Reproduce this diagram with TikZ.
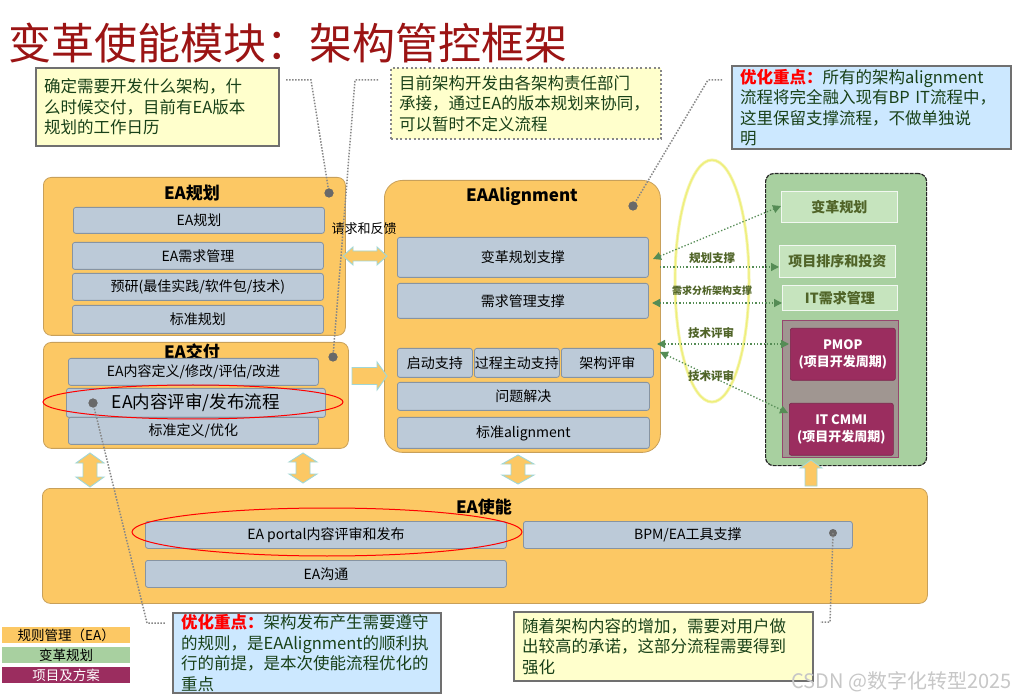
\documentclass[tikz,border=0pt]{standalone}
\usepackage{fontspec}
\setmainfont{Noto Sans CJK SC}
\usetikzlibrary{arrows.meta,calc}
\definecolor{orgfill}{RGB}{252,200,100}
\definecolor{orgdraw}{RGB}{200,160,90}
\definecolor{inbfill}{RGB}{188,202,216}
\definecolor{inbdraw}{RGB}{135,148,162}
\definecolor{noteyel}{RGB}{255,255,204}
\definecolor{noteblue}{RGB}{204,232,255}
\definecolor{notegray}{RGB}{112,112,112}
\definecolor{notetxt}{RGB}{25,65,25}
\definecolor{titlered}{RGB}{155,20,20}
\definecolor{grnfill}{RGB}{168,208,160}
\definecolor{grninner}{RGB}{198,228,190}
\definecolor{grntxt}{RGB}{80,100,40}
\definecolor{grayin}{RGB}{160,150,145}
\definecolor{grayindraw}{RGB}{150,70,110}
\definecolor{maroon}{RGB}{155,45,95}
\definecolor{garrc}{RGB}{85,140,85}
\definecolor{arrdraw}{RGB}{160,215,215}
\definecolor{yell}{RGB}{238,238,120}
\definecolor{dotgray}{RGB}{105,105,105}
\definecolor{connc}{RGB}{135,135,135}
\newcommand{\myhdarr}[6]{\filldraw[barrow] (#1,#3) -- ({#1+#6},{#3-#5}) -- ({#1+#6},{#3-#4}) -- ({#2-#6},{#3-#4}) -- ({#2-#6},{#3-#5}) -- (#2,#3) -- ({#2-#6},{#3+#5}) -- ({#2-#6},{#3+#4}) -- ({#1+#6},{#3+#4}) -- ({#1+#6},{#3+#5}) -- cycle;}
\newcommand{\myvdarr}[6]{\filldraw[barrow] (#3,#1) -- ({#3+#5},{#1+#6}) -- ({#3+#4},{#1+#6}) -- ({#3+#4},{#2-#6}) -- ({#3+#5},{#2-#6}) -- (#3,#2) -- ({#3-#5},{#2-#6}) -- ({#3-#4},{#2-#6}) -- ({#3-#4},{#1+#6}) -- ({#3-#5},{#1+#6}) -- cycle;}
\newcommand{\myrarr}[6]{\filldraw[barrow] (#1,{#3-#4}) -- ({#2-#6},{#3-#4}) -- ({#2-#6},{#3-#5}) -- (#2,#3) -- ({#2-#6},{#3+#5}) -- ({#2-#6},{#3+#4}) -- (#1,{#3+#4}) -- cycle;}
\newcommand{\myuarr}[6]{\filldraw[barrow] ({#3-#4},#2) -- ({#3-#4},{#1+#6}) -- ({#3-#5},{#1+#6}) -- (#3,#1) -- ({#3+#5},{#1+#6}) -- ({#3+#4},{#1+#6}) -- ({#3+#4},#2) -- cycle;}
\begin{document}
\begin{tikzpicture}[x=1pt,y=-1pt,
  cont/.style={draw=orgdraw,fill=orgfill,rounded corners=8pt,line width=0.8pt,anchor=north west,inner sep=0pt},
  inbox/.style={draw=inbdraw,fill=inbfill,rounded corners=2.5pt,line width=0.8pt,anchor=north west,inner sep=0pt,font=\fontsize{14}{16}\selectfont},
  ttl/.style={font=\fontsize{17}{19}\selectfont\bfseries},
  note/.style={fill=noteyel,draw=notegray,line width=2.2pt,anchor=north west,inner xsep=8pt,inner ysep=0pt,text=notetxt,align=left,font=\fontsize{16.5}{20.5}\selectfont},
  gdot/.style={circle,fill=dotgray,inner sep=0pt,minimum size=9pt},
  dotc/.style={draw=connc,line width=1.5pt,dash pattern=on 1.5pt off 1.5pt},
  gbox/.style={fill=grninner,draw=white!85!grnfill,line width=0.8pt,anchor=north west,inner sep=0pt,text=grntxt,font=\fontsize{14}{16}\selectfont\bfseries},
  mbox/.style={fill=maroon,draw=maroon!80!black,line width=0.6pt,rounded corners=2pt,anchor=north west,inner sep=0pt,text=white,align=center,font=\fontsize{13}{17}\selectfont\bfseries},
  garr/.style={draw=garrc,line width=1.3pt,dash pattern=on 1.3pt off 2pt},
  gtip/.tip={Triangle[length=8pt,width=8pt]},
  glabel/.style={text=grntxt,font=\fontsize{11.5}{13}\selectfont\bfseries,inner sep=1pt},
  barrow/.style={fill=orgfill,draw=arrdraw,line width=0.9pt},
  legend/.style={anchor=north west,inner sep=0pt,minimum width=128pt,minimum height=16pt,font=\fontsize{13.5}{15}\selectfont}]
\useasboundingbox (0,0) rectangle (1015,700);
\fill[white] (0,0) rectangle (1015,700);

% title
\node[anchor=west,text=titlered,font=\fontsize{43}{46}\selectfont,inner sep=0pt] (title) at (8,43) {变革使能模块：架构管控框架};

% notes at top
\node[note,text width=227pt,minimum height=78pt] (n1) at (35,67) {确定需要开发什么架构，什\\么时候交付，目前有EA版本\\规划的工作日历};
\node[note,draw=connc,dash pattern=on 2pt off 2.5pt,text width=254pt,minimum height=71pt] (n2) at (390,67) {目前架构开发由各架构责任部门\\承接，通过EA的版本规划来协同，\\可以暂时不定义流程};
\node[note,fill=noteblue,text width=263pt,minimum height=83pt] (n3) at (731,65) {{\color{red}\bfseries 优化重点：}所有的架构alignment\\流程将完全融入现有BP IT流程中，\\这里保留支撑流程，不做单独说\\明};

% EA规划
\node[cont,minimum width=302pt,minimum height=158pt] (plan) at (43,177) {};
\node[ttl] (plant) at (192,193) {EA规划};
\node[inbox,minimum width=251pt,minimum height=26pt] (p1) at (73,207) {EA规划};
\node[inbox,minimum width=251pt,minimum height=27pt] (p2) at (72,242) {EA需求管理};
\node[inbox,minimum width=251pt,minimum height=27pt] (p3) at (72,273) {预研(最佳实践/软件包/技术)};
\node[inbox,minimum width=251pt,minimum height=28pt] (p4) at (72,305) {标准规划};
\node[gdot] (dot1) at (329,193) {};

% EA交付
\node[cont,minimum width=305pt,minimum height=106pt] (deliv) at (43,342) {};
\node[ttl] (delivt) at (192,352) {EA交付};
\node[inbox,minimum width=250pt,minimum height=27pt] (d1) at (68,358) {EA内容定义/修改/评估/改进};
\node[inbox,minimum width=259pt,minimum height=29pt,font=\fontsize{17.5}{19}\selectfont] (d2) at (66,388) {EA内容评审/发布流程};
\node[inbox,minimum width=250pt,minimum height=27pt] (d3) at (68,417) {标准定义/优化};
\draw[red,line width=1pt] (193,402) ellipse [x radius=150pt,y radius=17pt];
\node[gdot] (dot2) at (333,357) {};
\node[gdot] (dot4) at (93,403) {};

% EA Alignment
\node[cont,rounded corners=18pt,minimum width=276pt,minimum height=272pt] (align) at (384,180) {};
\node[ttl] (alignt) at (522,196) {EAAlignment};
\node[inbox,minimum width=251pt,minimum height=40pt] (a1) at (397,237) {变革规划支撑};
\node[inbox,minimum width=251pt,minimum height=35pt] (a2) at (397,283) {需求管理支撑};
\node[inbox,minimum width=75pt,minimum height=29pt] (a3) at (397,348) {启动支持};
\node[inbox,minimum width=85pt,minimum height=29pt] (a4) at (474,348) {过程主动支持};
\node[inbox,minimum width=92pt,minimum height=29pt] (a5) at (561,348) {架构评审};
\node[inbox,minimum width=252pt,minimum height=28pt] (a6) at (397,382) {问题解决};
\node[inbox,minimum width=252pt,minimum height=31pt] (a7) at (397,417) {标准alignment};
\node[gdot] (dot3) at (633,206) {};

% green block
\node[draw=black!85,fill=grnfill,line width=1.2pt,dash pattern=on 4pt off 1pt,rounded corners=8pt,anchor=north west,inner sep=0pt,minimum width=161pt,minimum height=292pt] (green) at (765,173) {};
\node[gbox,minimum width=116pt,minimum height=31pt] (g1) at (781,191) {变革规划};
\node[gbox,minimum width=116pt,minimum height=32pt] (g2) at (779,245) {项目排序和投资};
\node[gbox,minimum width=115pt,minimum height=25pt] (g3) at (782,285) {IT需求管理};
\node[fill=grayin,draw=grayindraw,line width=0.8pt,anchor=north west,inner sep=0pt,minimum width=116pt,minimum height=137pt] (grayc) at (782,320) {};
\node[mbox,minimum width=105pt,minimum height=52pt] (m1) at (790,328) {PMOP\\(项目开发周期)};
\node[mbox,minimum width=104pt,minimum height=52pt] (m2) at (789,403) {IT CMMI\\(项目开发周期)};

% EA使能
\node[cont,minimum width=885pt,minimum height=115pt] (enable) at (42,488) {};
\node[ttl] (enablet) at (484,507) {EA使能};
\node[inbox,minimum width=361pt,minimum height=27pt] (e1) at (145,521) {EA portal内容评审和发布};
\node[inbox,minimum width=329pt,minimum height=27pt] (e2) at (523,521) {BPM/EA工具支撑};
\node[inbox,minimum width=361pt,minimum height=27pt] (e3) at (145,560) {EA沟通};
\draw[red,line width=1pt] (327,532) ellipse [x radius=195pt,y radius=24pt];
\node[gdot,minimum size=8pt] (dot5) at (833,533) {};

% block arrows
\node[font=\fontsize{13}{15}\selectfont,inner sep=0pt] (req) at (364,229) {请求和反馈};
\myhdarr{343}{387}{256}{5}{9}{10}
\myrarr{352}{387}{376}{8.5}{14}{10}
\myvdarr{453}{487}{90}{7}{14}{10}
\myvdarr{453}{483}{303}{7}{14}{9}
\myvdarr{455}{484}{518}{7}{16}{9}
\myuarr{460}{486}{811}{6}{11}{8}

% yellow ellipse and green dotted arrows
\draw[yell!60!white,line width=3pt] (712,281) ellipse [x radius=37pt,y radius=121pt];
\draw[yell,line width=1.2pt] (712,281) ellipse [x radius=37pt,y radius=121pt];
\coordinate (ga1) at (653,259); \coordinate (gb1) at (781,206);
\coordinate (ga2) at (660,267); \coordinate (gb2) at (779,267);
\coordinate (ga3) at (652,303); \coordinate (gb3) at (782,303);
\coordinate (ga4) at (657,344); \coordinate (gb4) at (789,344);
\coordinate (ga5) at (660,352); \coordinate (gb5) at (788,413);
\draw[garr,gtip-gtip] (ga1) -- (gb1);
\draw[garr,-gtip] (ga2) -- (gb2);
\draw[garr,gtip-gtip] (ga3) -- (gb3);
\draw[garr,gtip-gtip] (ga4) -- (gb4);
\draw[garr,gtip-gtip] (ga5) -- (gb5);
\node[glabel] (gl1) at (712,258) {规划支撑};
\node[glabel,font=\fontsize{10}{12}\selectfont\bfseries] (gl2) at (712,291) {需求分析架构支撑};
\node[glabel] (gl3) at (711,333) {技术评审};
\node[glabel] (gl4) at (711,376) {技术评审};

% bottom notes
\node[note,fill=noteblue,text width=252pt,minimum height=80pt] (n4) at (172,612) {{\color{red}\bfseries 优化重点：}架构发布产生需要遵守\\的规则，是EAAlignment的顺利执\\行的前提，是本次使能流程优化的\\重点};
\node[note,text width=283pt,minimum height=69pt] (n5) at (513,611) {随着架构内容的增加，需要对用户做\\出较高的承诺，这部分流程需要得到\\强化};

% dotted connectors
\coordinate (c1a) at (286,80); \coordinate (c1b) at (311,80);
\draw[dotc] (c1a) -- (c1b) -- (dot1.center);
\coordinate (c2a) at (378,80); \coordinate (c2b) at (355,80);
\draw[dotc] (c2a) -- (c2b) -- (dot2.center);
\coordinate (c3a) at (722,80); \coordinate (c3b) at (708,80);
\draw[dotc] (c3a) -- (c3b) -- (dot3.center);
\coordinate (c4a) at (147,623); \coordinate (c4b) at (165,623);
\draw[dotc] (dot4.center) -- (c4a) -- (c4b);
\coordinate (c5a) at (830,622); \coordinate (c5b) at (820,622);
\draw[dotc] (dot5.center) -- (c5a) -- (c5b);
\node[gdot] at (dot1) {};
\node[gdot] at (dot2) {};
\node[gdot] at (dot3) {};
\node[gdot] at (dot4) {};

% legend
\node[legend,fill=orgfill] (l1) at (2,627) {规则管理（EA）};
\node[legend,fill=grnfill] (l2) at (2,647) {变革规划};
\node[legend,fill=maroon,text=white] (l3) at (2,667) {项目及方案};

% watermark
\node[anchor=east,text=black!22,font=\fontsize{20}{22}\selectfont,inner sep=0pt] (wm) at (1012,682) {CSDN @数字化转型2025};
\end{tikzpicture}
\end{document}
